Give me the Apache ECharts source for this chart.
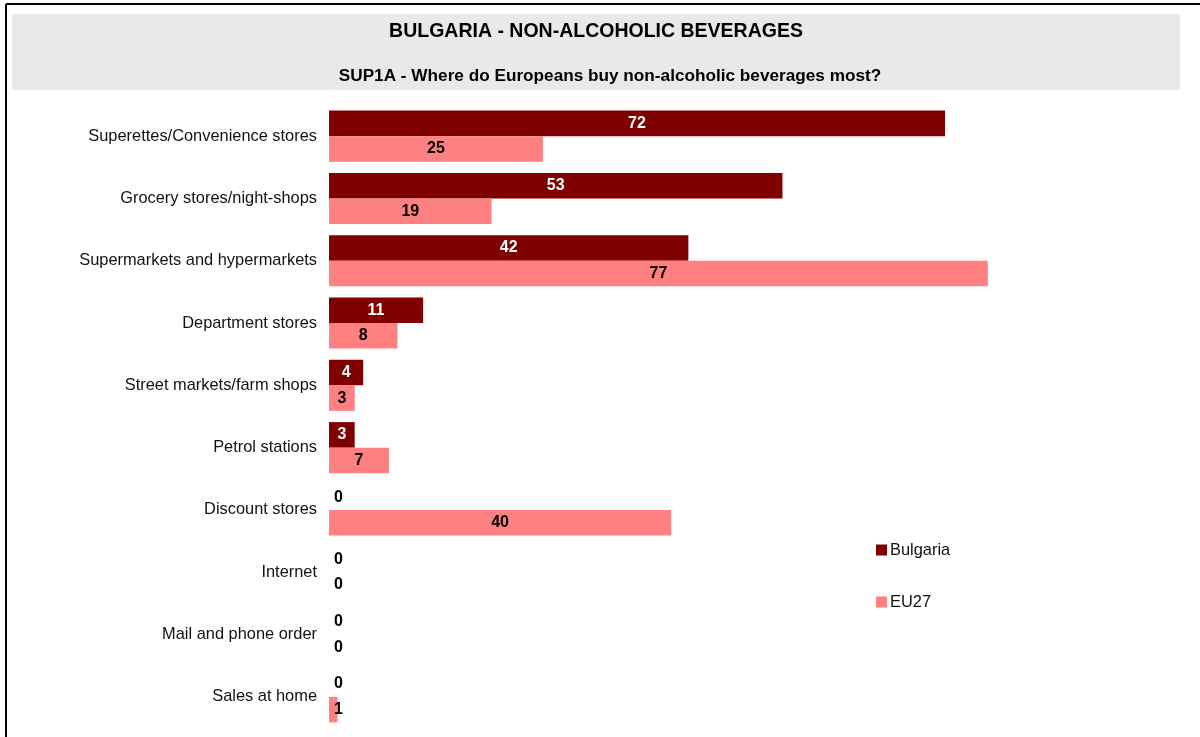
<!DOCTYPE html>
<html>
<head>
<meta charset="utf-8">
<script src="https://cdn.jsdelivr.net/npm/echarts@6/dist/echarts.min.js"></script>
<style>
  html, body { margin: 0; padding: 0; background: #fff; }
  #chart { width: 1200px; height: 737px; }
</style>
</head>
<body>
<div id="chart"></div>
<script>
// Retail channels, top to bottom as shown
const categories = [
  'Superettes/Convenience stores',
  'Grocery stores/night-shops',
  'Supermarkets and hypermarkets',
  'Department stores',
  'Street markets/farm shops',
  'Petrol stations',
  'Discount stores',
  'Internet',
  'Mail and phone order',
  'Sales at home'
];
const bulgaria = [72, 53, 42, 11, 4, 3, 0, 0, 0, 0];
const eu27 = [25, 19, 77, 8, 3, 7, 40, 0, 0, 1];

const seriesNames = ['Bulgaria', 'EU27'];
const seriesColors = ['#800000', '#ff8080'];
const labelColors = ['#ffffff', '#000000'];

// Tiny bars cannot hold their label, so it is set just right of the axis in black
function buildData(values, insideColor) {
  return values.map(v => {
    if (v < 2) {
      return {
        value: v,
        label: { position: 'insideLeft', distance: 5, color: '#000' }
      };
    }
    return { value: v, label: { color: insideColor } };
  });
}

const chart = echarts.init(document.getElementById('chart'), null, { renderer: 'canvas' });

const FONT = 'Liberation Sans, Arial, sans-serif';
const labelFont = { fontFamily: FONT, fontSize: 16, fontWeight: 'bold' };

chart.setOption({
  backgroundColor: '#ffffff',
  animation: false,
  graphic: [
    { type: 'rect', shape: { x: 12, y: 14, width: 1168, height: 76 }, style: { fill: '#e9e9e9' }, silent: true },
    { type: 'line', shape: { x1: 6, y1: 4, x2: 1200, y2: 4 }, style: { stroke: '#000', lineWidth: 2 }, silent: true },
    { type: 'line', shape: { x1: 6, y1: 4, x2: 6, y2: 737 }, style: { stroke: '#000', lineWidth: 2 }, silent: true }
  ],
  title: [
    {
      text: 'BULGARIA - NON-ALCOHOLIC BEVERAGES',
      left: 591, top: 17, textAlign: 'center',
      textStyle: { fontFamily: FONT, fontSize: 19.5, fontWeight: 'bold', color: '#000' }
    },
    {
      text: 'SUP1A - Where do Europeans buy non-alcoholic beverages most?',
      left: 605, top: 63, textAlign: 'center',
      textStyle: { fontFamily: FONT, fontSize: 17.2, fontWeight: 'bold', color: '#000' }
    }
  ],
  legend: {
    orient: 'vertical',
    left: 871, top: 537,
    itemWidth: 11, itemHeight: 11,
    itemGap: 36,
    icon: 'rect',
    data: seriesNames,
    textStyle: { fontFamily: FONT, fontSize: 16.4, color: '#111', padding: [0, 0, 0, -2] }
  },
  grid: { left: 329, top: 105, width: 855.6, height: 623 },
  xAxis: {
    type: 'value', min: 0, max: 100,
    show: false
  },
  yAxis: {
    type: 'category',
    inverse: true,
    data: categories,
    axisLine: { show: false },
    axisTick: { show: false },
    splitLine: { show: false },
    axisLabel: {
      margin: 12,
      fontFamily: FONT,
      fontSize: 16.4,
      color: '#111'
    }
  },
  series: [
    {
      name: seriesNames[0], type: 'bar',
      data: buildData(bulgaria, labelColors[0]),
      itemStyle: { color: seriesColors[0] },
      barGap: '0%', barCategoryGap: '18%',
      label: Object.assign({ show: true, position: 'inside' }, labelFont)
    },
    {
      name: seriesNames[1], type: 'bar',
      data: buildData(eu27, labelColors[1]),
      itemStyle: { color: seriesColors[1] },
      barGap: '0%', barCategoryGap: '18%',
      label: Object.assign({ show: true, position: 'inside' }, labelFont)
    }
  ]
});
</script>
</body>
</html>
